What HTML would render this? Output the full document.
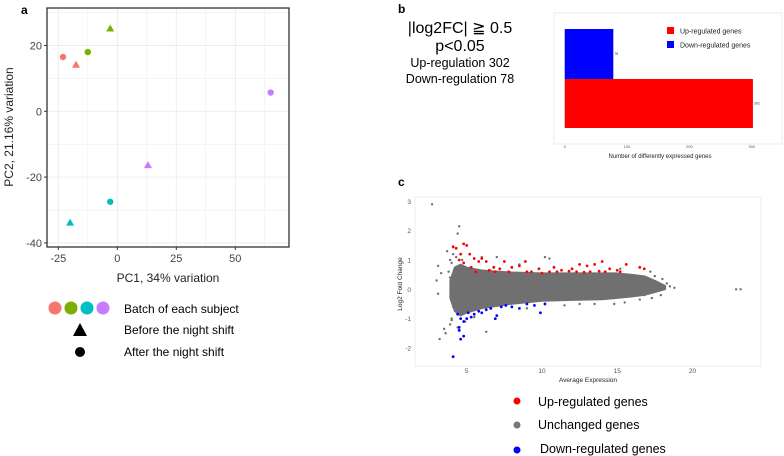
<!DOCTYPE html>
<html><head><meta charset="utf-8"><style>
body{margin:0;background:#fff;}
svg{display:block;font-family:"Liberation Sans",sans-serif;}
</style></head><body>
<svg id="s" width="784" height="456" viewBox="0 0 784 456">
<text x="21" y="14" font-size="12" font-weight="bold">a</text>
<g id="pca"></g>
<text x="168" y="282" font-size="12" text-anchor="middle" fill="#222">PC1, 34% variation</text>
<text transform="translate(13,127) rotate(-90)" font-size="12" text-anchor="middle" fill="#222">PC2, 21.16% variation</text>
<g>
<circle cx="55" cy="308" r="6.5" fill="#F8766D"/>
<circle cx="71" cy="308" r="6.5" fill="#7CAE00"/>
<circle cx="87" cy="308" r="6.5" fill="#00BFC4"/>
<circle cx="103" cy="308" r="6.5" fill="#C77CFF"/>
<text x="124" y="313" font-size="12">Batch of each subject</text>
<polygon points="80,323 87,336 73,336" fill="#000"/>
<text x="124" y="334" font-size="12">Before the night shift</text>
<circle cx="80" cy="352" r="5" fill="#000"/>
<text x="124" y="356" font-size="12">After the night shift</text>
</g>
<text x="398" y="13" font-size="12" font-weight="bold">b</text>
<g text-anchor="middle" fill="#000">
<text x="460" y="33" font-size="16">|log2FC| ≧ 0.5</text>
<text x="460" y="51" font-size="16">p&lt;0.05</text>
<text x="460" y="67" font-size="12.5">Up-regulation 302</text>
<text x="460" y="83" font-size="12.5">Down-regulation 78</text>
</g>
<g id="bar"></g>
<text x="398" y="186" font-size="12" font-weight="bold">c</text>
<g id="ma"></g>
<text x="588" y="382" font-size="6.5" text-anchor="middle" fill="#222">Average Expression</text>
<text transform="translate(402,284) rotate(-90)" font-size="6.5" text-anchor="middle" fill="#222">Log2 Fold Change</text>
<g>
<circle cx="517" cy="401" r="3.5" fill="#ff0000"/>
<text x="538" y="406" font-size="12.5">Up-regulated genes</text>
<circle cx="517" cy="425" r="3.5" fill="#777"/>
<text x="538" y="429" font-size="12.5">Unchanged genes</text>
<circle cx="517" cy="450" r="3.5" fill="#0000ff"/>
<text x="540" y="453" font-size="12.5">Down-regulated genes</text>
</g>
</svg>
<script>
const pcaX = [-23, -17.5, -12.5, -3, 65, 13, -3, -20];
const pcaY = [16.5, 14, 18, 25, 5.7, -16.5, -27.5, -34];
const pcaShape = ["circle","triangle","circle","triangle","circle","triangle","circle","triangle"];
const pcaColor = ["#F8766D","#F8766D","#7CAE00","#7CAE00","#C77CFF","#C77CFF","#00BFC4","#00BFC4"];
const pcaXTicks = [-25, 0, 25, 50];
const pcaYTicks = [20, 0, -20, -40];
const barCats = ["Up-regulated genes", "Down-regulated genes"];
const barVals = [302, 78];
const barColors = ["#ff0000", "#0000ff"];
const barTicks = [0, 100, 200, 300];
const envX = [3.9, 4.2, 4.6, 5, 6, 8, 10, 12, 14, 15, 16, 16.8, 17.5, 18.2];
const envUp = [0.3, 0.75, 0.85, 0.75, 0.65, 0.58, 0.55, 0.55, 0.55, 0.55, 0.5, 0.45, 0.3, 0.12];
const envLo = [-0.3, -0.75, -0.9, -0.8, -0.65, -0.5, -0.4, -0.37, -0.35, -0.3, -0.25, -0.2, -0.1, 0.0];
const upX = [4.1,4.3,4.6,4.8,5,4.5,4.8,5.2,5.5,5.8,6,6.3,6.8,7.2,7.5,8,8.5,8.9,9.3,9.8,10.5,10.8,11.3,12,12.5,13,13.5,14,14.5,15,15.6,16.5,16.8,5.3,6.5,7.8,9,10,11,12.3,13.2,14.2,15.2,5.6,6.9,11.8,12.8,13.8];
const upY = [1.45,1.4,1.2,1.55,1.5,1.0,0.9,1.2,1.05,0.95,1.05,0.95,0.75,0.7,0.95,0.75,0.8,0.95,0.6,0.7,0.6,0.75,0.65,0.7,0.85,0.8,0.85,0.95,0.7,0.65,0.85,0.75,0.7,0.75,0.65,0.6,0.6,0.55,0.6,0.6,0.6,0.6,0.6,0.6,0.6,0.62,0.58,0.62];
const downX = [4.1,4.6,4.8,4.5,4.5,4.8,5,5.3,5.5,5.8,6.0,6.3,6.6,6.9,7.0,7.3,7.6,8.0,8.5,9.0,9.5,9.9,10.2,4.6,5.1,4.4];
const downY = [-2.3,-1.7,-1.6,-1.4,-1.3,-1.1,-1.0,-0.95,-0.85,-0.75,-0.8,-0.7,-0.65,-1.0,-0.9,-0.6,-0.55,-0.6,-0.65,-0.5,-0.55,-0.8,-0.5,-1.0,-0.8,-0.85];
const grayX = [2.7,4.5,4.4,3.1,3.3,3.0,3.1,3.7,3.2,3.6,3.9,6.3,10.2,10.5,17.5,18,18.5,18.8,17.7,22.9,23.2,16.2,3.9,4.1,3.5,4.0,16.8,17.0,6.0,5.5,4.3,4.0,3.8,4.2,4.4,4.0,17.3,17.9,18.3,16.9,17.2,16.5,15.5,14.8,15.2,9.0,8.5,11.5,12.5,13.5,7.0,5.2,4.7,4.9,3.9,4.1];
const grayY = [2.9,2.15,1.9,0.8,0.55,0.3,-0.15,1.3,-1.7,-1.5,-1.2,-1.45,1.1,1.05,0.45,0.35,0.1,0.05,0.15,0,0,0.4,1.0,1.2,-1.35,-1.05,-0.2,0.3,1.1,-0.95,1.1,0.9,0.6,-0.5,-1.3,-1.0,-0.3,-0.2,0.2,0.4,0.6,-0.35,-0.45,-0.5,0.7,-0.65,0.85,-0.55,-0.5,-0.5,1.1,1.2,1.0,-1.1,0.4,-0.6];
const maXTicks = [5, 10, 15, 20];
const maYTicks = [3, 2, 1, 0, -1, -2];

const NS = "http://www.w3.org/2000/svg";
function mk(parent, tag, attrs){ const e=document.createElementNS(NS,tag); for(const k in attrs) e.setAttribute(k,attrs[k]); parent.appendChild(e); return e; }

(function(){
  const g=document.getElementById('pca');
  const L=47,R=289,T=8,B=247;
  const sx=v=>117.3+v*2.36, sy=v=>111.3-v*3.29;
  for(const m of [-37.5,-25,-12.5,0,12.5,25,37.5,50,62.5]){ const x=sx(m); if(x>L&&x<R){ const ln=mk(g,'line',{x1:x,x2:x,y1:T,y2:B,stroke:'#ebebeb','stroke-width':(m%25===0)?0.9:0.5});
        } }
  for(const m of [-40,-30,-20,-10,0,10,20,30]){ const y=sy(m); if(y>T&&y<B){ const ln=mk(g,'line',{x1:L,x2:R,y1:y,y2:y,stroke:'#ebebeb','stroke-width':(m%20===0)?0.9:0.5});
        } }
  const fr=mk(g,'rect',{x:L,y:T,width:R-L,height:B-T,fill:'none',stroke:'#222','stroke-width':1.2});
   
  for(const t of pcaXTicks){ const x=sx(t);
    const tk=mk(g,'line',{x1:x,x2:x,y1:B,y2:B+3,stroke:'#333'});  
    const tx=mk(g,'text',{x:x,y:B+15,'font-size':11,'text-anchor':'middle',fill:'#444'}); tx.textContent=t;
      }
  for(const t of pcaYTicks){ const y=sy(t);
    const tk=mk(g,'line',{x1:L-3,x2:L,y1:y,y2:y,stroke:'#333'});  
    const tx=mk(g,'text',{x:L-5,y:y+4,'font-size':11,'text-anchor':'end',fill:'#444'}); tx.textContent=t;
      }
  pcaX.forEach((v,i)=>{ const x=sx(v), y=sy(pcaY[i]); let e;
    if(pcaShape[i]==='circle') e=mk(g,'circle',{cx:x,cy:y,r:3.2,fill:pcaColor[i]});
    else e=mk(g,'polygon',{points:`${x},${y-4.5} ${x+4},${y+2.5} ${x-4},${y+2.5}`,fill:pcaColor[i]});
      });
})();

(function(){
  const g=document.getElementById('bar');
  const fr=mk(g,'rect',{x:554,y:13,width:228,height:131,fill:'#fff',stroke:'#e6e6e6','stroke-width':0.8});
   
  const sx=v=>564.7+v*0.6233;
  const rows=[{y:79,h:49},{y:29,h:50}];
  barVals.forEach((v,i)=>{ const r=mk(g,'rect',{x:sx(0),y:rows[i].y,width:sx(v)-sx(0),height:rows[i].h,fill:barColors[i]});
     
    const t=mk(g,'text',{x:sx(v)+1,y:rows[i].y+rows[i].h/2+1,'font-size':3.5,fill:'#333'}); t.textContent=v;
      });
  for(const t of barTicks){ const tx=mk(g,'text',{x:sx(t),y:148,'font-size':4,'text-anchor':'middle',fill:'#555'}); tx.textContent=t;
      }
  const at=mk(g,'text',{x:660,y:158,'font-size':6,'text-anchor':'middle',fill:'#222'}); at.textContent='Number of differently  expressed genes';
   
  barCats.forEach((c,i)=>{ const y=27+i*14;
    const sq=mk(g,'rect',{x:667,y:y,width:7,height:7,fill:barColors[i]});  
    const tx=mk(g,'text',{x:680,y:y+6.5,'font-size':7,fill:'#222'}); tx.textContent=c;   });
})();

(function(){
  const g=document.getElementById('ma');
  const L=415,R=761,T=197,B=366;
  const sx=v=>466.7+(v-5)*15.05, sy=v=>289.3-v*29.3;
  const fr=mk(g,'rect',{x:L,y:T,width:R-L,height:B-T,fill:'#fff',stroke:'#e8e8e8','stroke-width':0.8});
   
  for(const t of maXTicks){ const tx=mk(g,'text',{x:sx(t),y:B+7,'font-size':6.5,'text-anchor':'middle',fill:'#555'}); tx.textContent=t;
      }
  for(const t of maYTicks){ const tx=mk(g,'text',{x:L-4,y:sy(t)+2.5,'font-size':6.5,'text-anchor':'end',fill:'#555'}); tx.textContent=t;
      }
  let pts=envX.map((x,i)=>`${sx(x)},${sy(envUp[i])}`);
  for(let i=envX.length-1;i>=0;i--) pts.push(`${sx(envX[i])},${sy(envLo[i])}`);
  const cloud=mk(g,'polygon',{points:pts.join(' '),fill:'#707070',stroke:'#707070','stroke-width':1.5,'stroke-linejoin':'round'});
   
  grayX.forEach((v,i)=>{ const c=mk(g,'circle',{cx:sx(v),cy:sy(grayY[i]),r:1.2,fill:'#707070'});
      });
  upX.forEach((v,i)=>{ const c=mk(g,'circle',{cx:sx(v),cy:sy(upY[i]),r:1.4,fill:'#ff0000'});
      });
  downX.forEach((v,i)=>{ const c=mk(g,'circle',{cx:sx(v),cy:sy(downY[i]),r:1.4,fill:'#0000ff'});
      });
})();
</script>
</body></html>
